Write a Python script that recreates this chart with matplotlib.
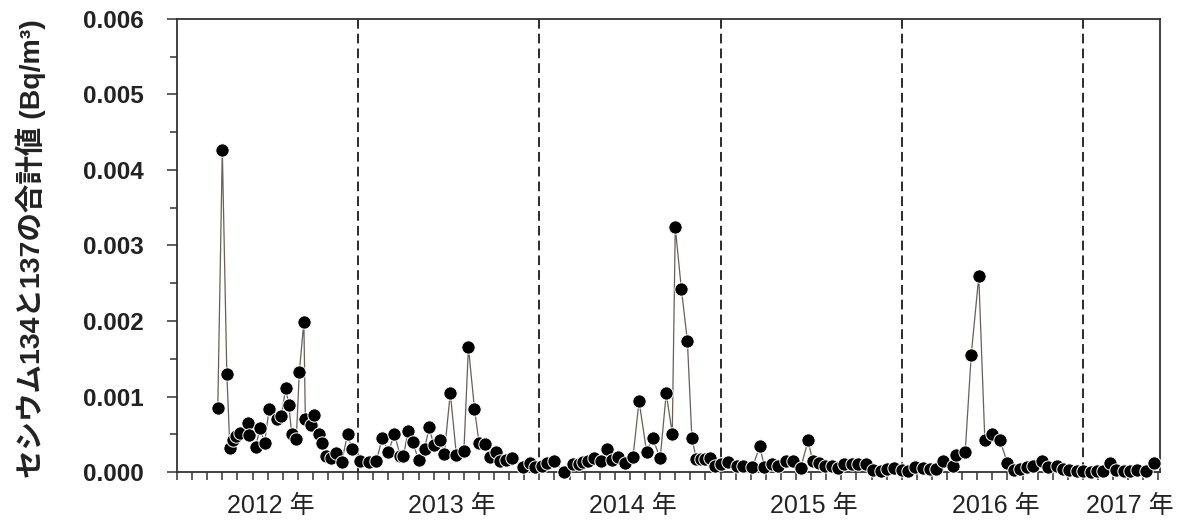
#importing libraries
import matplotlib
matplotlib.use("Agg")
import matplotlib.pyplot as plt
from matplotlib.ticker import MultipleLocator, FixedLocator

plt.rcParams['font.family'] = ['Liberation Sans', 'Noto Sans CJK JP', 'DejaVu Sans']

# sample times, in months counted from 1 Jan 2012
months = [
    # 2012
    2.7, 3.0, 3.3, 3.5, 3.7, 3.9, 4.2, 4.7, 4.8, 5.2, 5.5, 5.8, 6.1, 6.6, 6.9, 7.2,
    7.4, 7.6, 7.9, 8.1, 8.4, 8.5, 8.9, 9.1, 9.4, 9.6, 9.9, 10.2, 10.5, 10.9, 11.3, 11.6,
    # 2013
    12.1, 12.7, 13.2, 13.6, 14.0, 14.4, 14.8, 15.0, 15.3, 15.6, 16.0, 16.4, 16.7, 17.0,
    17.4, 17.7, 18.1, 18.5, 19.0, 19.3, 19.7, 20.0, 20.4, 20.7, 21.1, 21.4, 21.8, 22.2,
    22.9, 23.4, 23.7,
    # 2014
    24.2, 24.5, 25.0, 25.6, 26.2, 26.6, 26.9, 27.2, 27.6, 28.1, 28.5, 28.8, 29.2, 29.7,
    30.2, 30.6, 31.1, 31.5, 32.0, 32.4, 32.8, 33.0, 33.4, 33.8, 34.1, 34.4, 34.7, 35.0,
    35.3, 35.6,
    # 2015
    36.0, 36.5, 37.1, 37.5, 38.1, 38.6, 38.9, 39.4, 39.8, 40.3, 40.8, 41.3, 41.8, 42.1,
    42.5, 42.9, 43.4, 43.8, 44.2, 44.7, 45.1, 45.6, 46.1, 46.6, 47.0, 47.5,
    # 2016
    48.0, 48.4, 48.9, 49.4, 49.9, 50.3, 50.7, 51.4, 51.6, 52.2, 52.6, 53.1, 53.5, 54.0,
    54.5, 55.0, 55.4, 55.8, 56.3, 56.7, 57.3, 57.7, 58.3, 58.7, 59.1, 59.6,
    # 2017
    60.0, 60.5, 60.9, 61.3, 61.8, 62.2, 62.7, 63.1, 63.6, 64.2, 64.7,
]

# Cs-134 + Cs-137 (Bq/m3)
cesium = [
    # 2012
    0.00085, 0.00426, 0.00130, 0.00032, 0.00043, 0.00048, 0.00052, 0.00065, 0.00049,
    0.00033, 0.00058, 0.00039, 0.00083, 0.00070, 0.00074, 0.00111, 0.00089, 0.00050,
    0.00044, 0.00132, 0.00199, 0.00070, 0.00062, 0.00076, 0.00051, 0.00038, 0.00021,
    0.00019, 0.00025, 0.00013, 0.00050, 0.00030,
    # 2013
    0.00014, 0.00013, 0.00015, 0.00045, 0.00027, 0.00050, 0.00021, 0.00021, 0.00054,
    0.00040, 0.00016, 0.00031, 0.00059, 0.00036, 0.00043, 0.00024, 0.00105, 0.00023,
    0.00028, 0.00165, 0.00084, 0.00039, 0.00037, 0.00020, 0.00026, 0.00015, 0.00016,
    0.00019, 0.00006, 0.00012, 0.00006,
    # 2014
    0.00008, 0.00012, 0.00015, 0.00000, 0.00010, 0.00010, 0.00013, 0.00015, 0.00018,
    0.00015, 0.00031, 0.00016, 0.00020, 0.00012, 0.00020, 0.00094, 0.00027, 0.00045,
    0.00018, 0.00104, 0.00051, 0.00324, 0.00243, 0.00174, 0.00045, 0.00017, 0.00017,
    0.00017, 0.00019, 0.00008,
    # 2015
    0.00011, 0.00013, 0.00008, 0.00008, 0.00006, 0.00034, 0.00007, 0.00011, 0.00008,
    0.00015, 0.00015, 0.00005, 0.00042, 0.00014, 0.00012, 0.00008, 0.00008, 0.00005,
    0.00010, 0.00011, 0.00010, 0.00010, 0.00002, 0.00001, 0.00004, 0.00005,
    # 2016
    0.00002, 0.00001, 0.00006, 0.00005, 0.00004, 0.00004, 0.00015, 0.00008, 0.00023,
    0.00026, 0.00155, 0.00259, 0.00043, 0.00050, 0.00042, 0.00012, 0.00002, 0.00004,
    0.00007, 0.00008, 0.00014, 0.00006, 0.00008, 0.00004, 0.00002, 0.00001,
    # 2017
    0.00001, 0.00000, 0.00001, 0.00001, 0.00012, 0.00002, 0.00001, 0.00001, 0.00002,
    0.00001, 0.00012,
]

year_labels = ['2012 年', '2013 年', '2014 年', '2015 年', '2016 年', '2017 年']
year_label_pos = [6.2, 18.2, 30.2, 42.2, 54.2, 63.1]
year_bounds = [12, 24, 36, 48, 60]
ylabel = 'セシウム134と137の合計値 (Bq/m³)'

fig = plt.figure(figsize=(11.84, 5.23), dpi=100)
ax = fig.add_axes([0.1495, 0.0975, 0.8302, 0.8662])

ax.plot(months, cesium, color='#6b5e55', lw=0.9, zorder=3,
        marker='o', ms=9.6, mfc='black', mec='white', mew=0.7, clip_on=False)

for b in year_bounds:
    ax.axvline(b, color='#2b2b2b', lw=1.4, ls=(0, (5.0, 2.6)), zorder=1)

ax.set_xlim(0, 65.1)
ax.set_ylim(0, 0.006)

# y axis
ax.yaxis.set_major_locator(MultipleLocator(0.001))
ax.yaxis.set_minor_locator(MultipleLocator(0.0005))
ax.set_yticklabels(['%.3f' % v for v in ax.get_yticks()])
ax.tick_params(axis='y', which='major', direction='out', length=7, width=1.1,
               color='#333333', pad=17, labelsize=17.5)
ax.tick_params(axis='y', which='minor', direction='out', length=5, width=1.1,
               color='#333333')
for lab in ax.get_yticklabels():
    lab.set_fontweight('bold')
    lab.set_color('#222222')

# x axis: monthly ticks, year names in between
ax.xaxis.set_minor_locator(FixedLocator(range(0, 66)))
ax.set_xticks(year_label_pos)
ax.set_xticklabels(year_labels)
ax.tick_params(axis='x', which='major', length=0, pad=16, labelsize=18,
               labelcolor='#222222')
ax.tick_params(axis='x', which='minor', direction='out', length=6, width=1.1,
               color='#333333')

for s in ax.spines.values():
    s.set_color('#333333')
    s.set_linewidth(1.3)

fig.text(0.026, 0.525, ylabel, rotation=90, ha='center', va='center',
         fontsize=20.5, fontweight='bold', color='#222222')

plt.savefig('out.png', dpi=100)
